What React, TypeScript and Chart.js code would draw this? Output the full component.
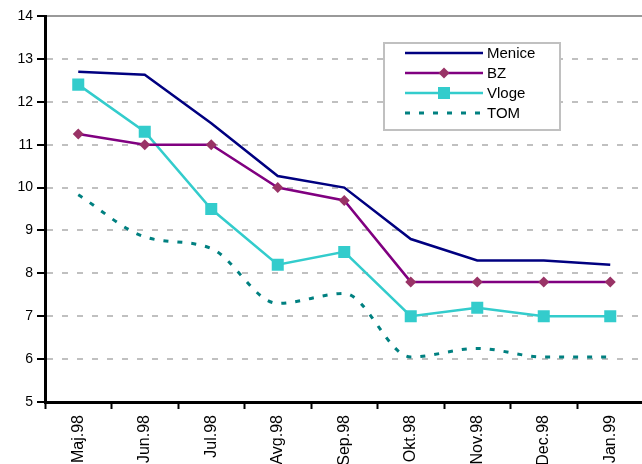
import React, { useEffect, useRef } from "react";
import { Chart, registerables } from "chart.js";

Chart.register(...registerables);

const categories = ["Maj.98", "Jun.98", "Jul.98", "Avg.98", "Sep.98", "Okt.98", "Nov.98", "Dec.98", "Jan.99"];
const menice = [12.7, 12.63, 11.5, 10.27, 10.0, 8.8, 8.3, 8.3, 8.2];
const bz = [11.25, 11.0, 11.0, 10.0, 9.7, 7.8, 7.8, 7.8, 7.8];
const vloge = [12.4, 11.3, 9.5, 8.2, 8.5, 7.0, 7.2, 7.0, 7.0];
const tom = [9.83, 8.85, 8.58, 7.3, 7.53, 6.05, 6.25, 6.05, 6.05];
const seriesNames = ["Menice", "BZ", "Vloge", "TOM"];

const FONT = "'Liberation Sans', Arial, sans-serif";

const legendPlugin = {
  id: "boxLegend",
  afterDraw(chart: any) {
    const ctx = chart.ctx;
    ctx.save();
    const bx = 384, by = 43, bw = 176, bh = 87;
    ctx.fillStyle = "#ffffff";
    ctx.fillRect(bx, by, bw, bh);
    ctx.strokeStyle = "#c0c0c0";
    ctx.lineWidth = 2;
    ctx.strokeRect(bx, by, bw, bh);
    const x1 = 405, x2 = 483, xm = 444;
    chart.data.datasets.forEach((ds: any, i: number) => {
      const y = 53 + i * 20;
      ctx.beginPath();
      ctx.setLineDash(ds.borderDash || []);
      ctx.strokeStyle = ds.borderColor;
      ctx.lineWidth = ds.borderWidth;
      ctx.moveTo(x1, y);
      ctx.lineTo(x2, y);
      ctx.stroke();
      ctx.setLineDash([]);
      if (ds.pointStyle === "rectRot") {
        ctx.fillStyle = ds.pointBackgroundColor;
        ctx.beginPath();
        ctx.moveTo(xm, y - 5.5);
        ctx.lineTo(xm + 5.5, y);
        ctx.lineTo(xm, y + 5.5);
        ctx.lineTo(xm - 5.5, y);
        ctx.closePath();
        ctx.fill();
      } else if (ds.pointStyle === "rect") {
        ctx.fillStyle = ds.pointBackgroundColor;
        ctx.fillRect(xm - 6, y - 6, 12, 12);
      }
      ctx.fillStyle = "#000000";
      ctx.font = "15px " + FONT;
      ctx.textBaseline = "middle";
      ctx.textAlign = "left";
      ctx.fillText(ds.label, 487, y + 1);
    });
    ctx.restore();
  },
};

export default function App() {
  const ref = useRef<HTMLCanvasElement>(null);
  useEffect(() => {
    const canvas = ref.current!;
    const chart = new Chart(canvas, {
      type: "line",
      data: {
        labels: categories,
        datasets: [
          {
            label: seriesNames[0],
            data: menice,
            borderColor: "#000080",
            borderWidth: 2.5,
            pointRadius: 0,
            tension: 0,
          },
          {
            label: seriesNames[1],
            data: bz,
            borderColor: "#800080",
            borderWidth: 2.5,
            pointStyle: "rectRot",
            pointRadius: 5.5,
            pointBackgroundColor: "#993366",
            pointBorderColor: "#993366",
            pointBorderWidth: 0,
            tension: 0,
          },
          {
            label: seriesNames[2],
            data: vloge,
            borderColor: "#33cccc",
            borderWidth: 2.5,
            pointStyle: "rect",
            pointRadius: 8.5,
            pointBackgroundColor: "#33cccc",
            pointBorderColor: "#33cccc",
            pointBorderWidth: 0,
            tension: 0,
          },
          {
            label: seriesNames[3],
            data: tom,
            borderColor: "#008080",
            borderWidth: 3,
            borderDash: [5, 9],
            pointRadius: 0,
            cubicInterpolationMode: "monotone",
          },
        ],
      } as any,
      options: {
        responsive: false,
        animation: false,
        devicePixelRatio: 1,
        layout: { padding: { top: 16, right: 1, left: 0, bottom: 0 } },
        plugins: { legend: { display: false }, tooltip: { enabled: false } },
        scales: {
          x: {
            offset: true,
            grid: {
              offset: true,
              drawOnChartArea: false,
              tickLength: 7,
              tickColor: "#000000",
              tickWidth: 2,
            },
            border: { color: "#000000", width: 3 },
            ticks: {
              color: "#000000",
              font: { family: FONT, size: 16 },
              maxRotation: 90,
              minRotation: 90,
              padding: 6,
              autoSkip: false,
            },
            afterFit: (s: any) => {
              s.height = 62;
            },
          },
          y: {
            min: 5,
            max: 14,
            grid: {
              color: (c: any) => (c.tick && c.tick.value === 14 ? "#999999" : "#c0c0c0"),
              lineWidth: 2,
              tickLength: 8,
              tickColor: "#000000",
              tickWidth: 2,
            },
            border: {
              color: "#000000",
              width: 3,
              dash: (c: any) => (c.tick && c.tick.value === 14 ? [] : [6, 9]),
            } as any,
            ticks: {
              stepSize: 1,
              color: "#000000",
              font: { family: FONT, size: 14 },
              padding: 4,
            },
            afterFit: (s: any) => {
              s.width = 45;
            },
          },
        },
      } as any,
      plugins: [legendPlugin],
    });
    return () => chart.destroy();
  }, []);
  return (
    <div style={{ position: "fixed", left: 0, top: 0, width: 642, height: 464, overflow: "hidden", background: "#fff" }}>
      <canvas ref={ref} width={652} height={464} style={{ width: 652, height: 464, display: "block" }} />
    </div>
  );
}
